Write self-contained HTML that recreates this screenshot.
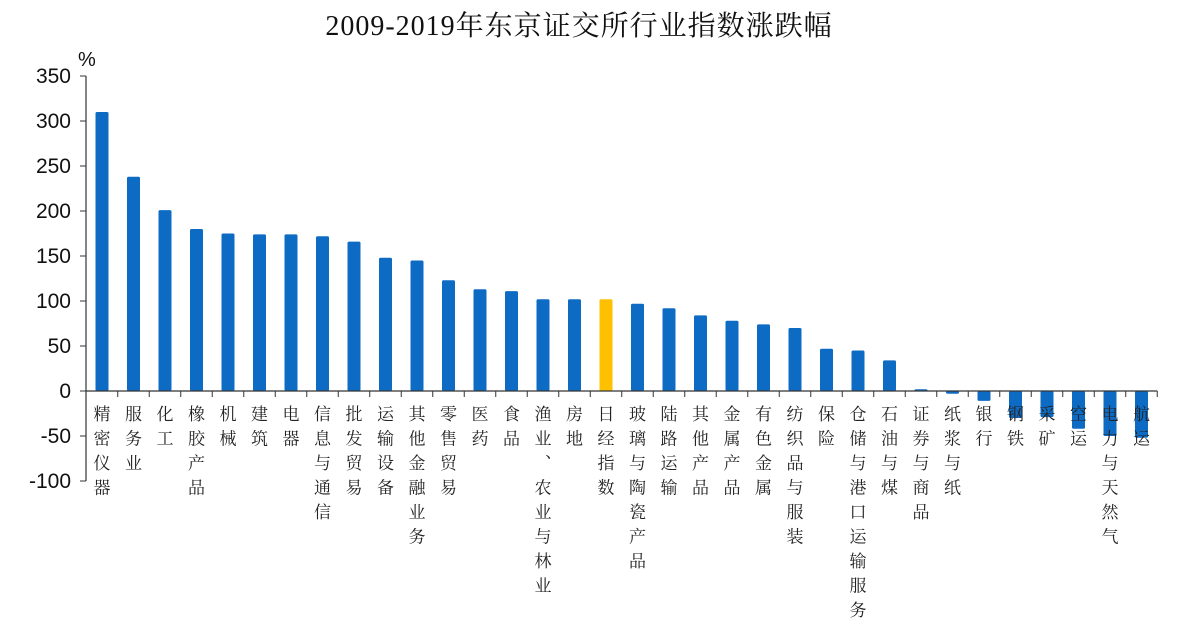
<!DOCTYPE html>
<html><head><meta charset="utf-8"><style>
body{margin:0;background:#fff;}
svg text{font-family:"Liberation Sans","Noto Sans CJK SC",sans-serif;}
</style></head><body>
<svg id="c" width="1200" height="636" xmlns="http://www.w3.org/2000/svg">
<text x="579" y="35" text-anchor="middle" font-size="28" fill="#111" style="font-family:'Liberation Serif','Noto Serif CJK SC',serif;letter-spacing:1px">2009-2019年东京证交所行业指数涨跌幅</text>
<text x="78" y="66" font-size="20" fill="#111">%</text>
</svg>
<script>
const categories=["精密仪器","服务业","化工","橡胶产品","机械","建筑","电器","信息与通信","批发贸易","运输设备","其他金融业务","零售贸易","医药","食品","渔业、农业与林业","房地","日经指数","玻璃与陶瓷产品","陆路运输","其他产品","金属产品","有色金属","纺织品与服装","保险","仓储与港口运输服务","石油与煤","证券与商品","纸浆与纸","银行","钢铁","采矿","空运","电力与天然气","航运"];
const values=[310,238,201,180,175,174,174,172,166,148,145,123,113,111,102,102,102,97,92,84,78,74,70,47,45,34,2,-3,-11,-30,-29,-42,-50,-52];
const yTicks=[350,300,250,200,150,100,50,0,-50,-100];
const highlight="日经指数";
const svg=document.getElementById('c');
const NS='http://www.w3.org/2000/svg';
const y0=391,k=0.9;
function y(v){return y0-v*k;}
const x0=102,step=31.5;
function x(i){return x0+i*step;}
function mk(t,a){const e=document.createElementNS(NS,t);for(const n in a)e.setAttribute(n,a[n]);svg.appendChild(e);return e;}
let ax=mk('line',{x1:86,x2:86,y1:y(350),y2:y(-100),stroke:'#333','stroke-width':1.2});


yTicks.forEach(t=>{
 const l=mk('line',{x1:80,x2:86,y1:y(t),y2:y(t),stroke:'#333'});
 
 
 const tx=mk('text',{x:71,y:y(t)+7,'text-anchor':'end','font-size':21,fill:'#111'});
 tx.textContent=t<0?'-'+Math.abs(t):t;
 
 
});
values.forEach((v,i)=>{
 const top=Math.min(y(v),y(0)),h=Math.max(Math.abs(y(v)-y(0)),1);
 const r=mk('rect',{x:x(i)-6.5,y:top,width:13,height:h,rx:1.5,fill:categories[i]===highlight?'#FFC000':'#0E6BC4'});
 
 
 const tk=mk('line',{x1:x(i)+step/2,x2:x(i)+step/2,y1:y(0),y2:y(0)+6,stroke:'#333'});
 
 
 const t=mk('text',{x:x(i)-2,y:405,'font-size':17,fill:'#222'});
 t.setAttribute('style','writing-mode:vertical-rl;letter-spacing:7.5px;font-family:"Liberation Serif","Noto Serif CJK SC",serif');
 t.textContent=categories[i];
 
 
});
let xa=mk('line',{x1:86,x2:x(33)+step/2,y1:y(0),y2:y(0),stroke:'#333','stroke-width':1.2});


</script>
</body></html>
